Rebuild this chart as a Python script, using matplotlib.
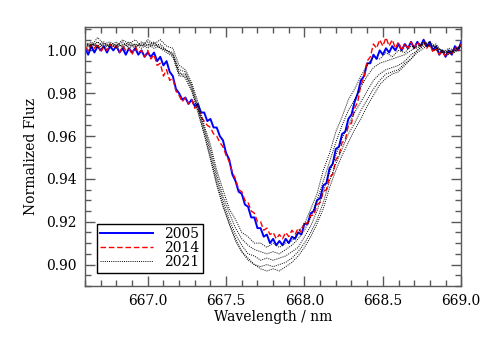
import numpy as np
import matplotlib
matplotlib.use("Agg")
import matplotlib.pyplot as plt
from matplotlib.ticker import MultipleLocator

# wavelength grids (nm)
wl_fine = np.round(np.linspace(666.60, 669.00, 121), 2)
wl_coarse = np.round(np.linspace(666.60, 669.00, 61), 2)

# 2005 spectrum (blue)
flux_2005 = [
    1.001, 0.998, 1.002, 0.999, 1.002, 1.000, 1.002, 0.999, 1.002, 1.000,
    1.002, 0.999, 1.001, 0.998, 1.001, 0.999, 1.001, 0.998, 1.000, 0.997,
    0.999, 0.997, 0.999, 0.995, 0.997, 0.993, 0.995, 0.990, 0.988, 0.982,
    0.980, 0.977, 0.978, 0.975, 0.977, 0.974, 0.975, 0.971, 0.971, 0.967,
    0.968, 0.964, 0.964, 0.960, 0.958, 0.952, 0.949, 0.942, 0.939, 0.934,
    0.933, 0.928, 0.927, 0.922, 0.922, 0.917, 0.917, 0.913, 0.914, 0.910,
    0.912, 0.909, 0.911, 0.909, 0.912, 0.910, 0.913, 0.912, 0.915, 0.914,
    0.919, 0.919, 0.924, 0.925, 0.930, 0.931, 0.937, 0.938, 0.945, 0.947,
    0.954, 0.955, 0.961, 0.962, 0.968, 0.970, 0.976, 0.980, 0.986, 0.988,
    0.994, 0.994, 0.998, 0.996, 1.000, 0.998, 1.001, 0.999, 1.002, 1.000,
    1.003, 1.000, 1.003, 1.001, 1.004, 1.001, 1.004, 1.002, 1.005, 1.002,
    1.004, 1.000, 1.002, 0.998, 1.000, 0.997, 1.000, 0.998, 1.002, 1.000,
    1.004,
]

# 2014 spectrum (red dashed)
flux_2014 = [
    1.002, 1.000, 1.003, 1.001, 1.003, 0.999, 1.002, 1.000, 1.003, 1.001,
    1.002, 0.999, 1.002, 1.000, 1.001, 0.998, 1.002, 0.999, 1.000, 0.997,
    1.000, 0.996, 0.998, 0.993, 0.994, 0.988, 0.991, 0.986, 0.987, 0.981,
    0.979, 0.976, 0.978, 0.975, 0.977, 0.973, 0.974, 0.969, 0.967, 0.965,
    0.964, 0.961, 0.960, 0.957, 0.955, 0.951, 0.948, 0.943, 0.940, 0.935,
    0.934, 0.930, 0.929, 0.925, 0.924, 0.920, 0.920, 0.916, 0.917, 0.914,
    0.915, 0.912, 0.914, 0.912, 0.915, 0.913, 0.916, 0.914, 0.917, 0.915,
    0.920, 0.919, 0.923, 0.923, 0.928, 0.929, 0.934, 0.935, 0.941, 0.942,
    0.949, 0.951, 0.957, 0.958, 0.965, 0.966, 0.973, 0.976, 0.984, 0.987,
    0.995, 0.997, 1.003, 1.001, 1.005, 1.002, 1.006, 1.002, 1.005, 1.001,
    1.004, 1.000, 1.003, 1.001, 1.004, 1.001, 1.004, 1.002, 1.004, 1.001,
    1.003, 0.999, 1.001, 0.998, 1.000, 0.997, 0.999, 0.998, 1.002, 1.000,
    1.003,
]

# 2021 spectra (black dotted, several exposures)
flux_2021_a = [
    1.004, 1.002, 1.006, 1.003, 1.004, 1.002, 1.005, 1.003, 1.005, 1.002,
    1.005, 1.003, 1.005, 1.002, 1.001, 0.993, 0.991, 0.985, 0.976, 0.965,
    0.956, 0.944, 0.935, 0.926, 0.921, 0.915, 0.913, 0.910, 0.910, 0.908,
    0.910, 0.908, 0.910, 0.911, 0.915, 0.919, 0.926, 0.933, 0.944, 0.952,
    0.962, 0.969, 0.977, 0.982, 0.988, 0.993, 0.997, 0.996, 0.999, 0.997,
    1.000, 0.999, 1.002, 1.001, 1.004, 1.002, 1.003, 0.999, 1.001, 1.000,
    1.003,
]
flux_2021_b = [
    1.002, 1.004, 1.001, 1.003, 1.002, 1.004, 1.001, 1.003, 1.001, 1.004,
    1.002, 1.004, 1.001, 1.000, 0.999, 0.991, 0.990, 0.984, 0.974, 0.964,
    0.954, 0.942, 0.932, 0.924, 0.917, 0.912, 0.909, 0.907, 0.906, 0.905,
    0.906, 0.905, 0.907, 0.909, 0.912, 0.916, 0.922, 0.930, 0.939, 0.948,
    0.957, 0.965, 0.972, 0.977, 0.983, 0.988, 0.992, 0.994, 0.995, 0.996,
    0.997, 0.998, 1.000, 1.002, 1.003, 1.004, 1.001, 1.000, 0.999, 1.001,
    1.002,
]
flux_2021_c = [
    1.003, 1.001, 1.004, 1.002, 1.003, 1.001, 1.003, 1.002, 1.003, 1.001,
    1.003, 1.001, 1.002, 1.000, 0.998, 0.989, 0.989, 0.983, 0.973, 0.963,
    0.952, 0.940, 0.930, 0.921, 0.914, 0.909, 0.905, 0.904, 0.902, 0.903,
    0.902, 0.903, 0.904, 0.906, 0.908, 0.913, 0.918, 0.925, 0.934, 0.943,
    0.951, 0.959, 0.965, 0.971, 0.976, 0.981, 0.986, 0.989, 0.991, 0.992,
    0.993, 0.995, 0.998, 1.000, 1.003, 1.002, 1.002, 0.999, 1.000, 0.999,
    1.002,
]
flux_2021_d = [
    1.001, 1.003, 1.002, 1.004, 1.001, 1.003, 1.002, 1.004, 1.002, 1.003,
    1.001, 1.003, 1.001, 0.999, 0.997, 0.988, 0.988, 0.982, 0.971, 0.961,
    0.950, 0.938, 0.928, 0.919, 0.911, 0.906, 0.902, 0.900, 0.899, 0.900,
    0.899, 0.900, 0.901, 0.903, 0.906, 0.910, 0.915, 0.921, 0.929, 0.939,
    0.947, 0.954, 0.961, 0.966, 0.972, 0.977, 0.982, 0.986, 0.989, 0.990,
    0.991, 0.994, 0.996, 0.999, 1.001, 1.003, 1.001, 1.000, 0.998, 1.000,
    1.001,
]
flux_2021_e = [
    1.003, 1.002, 1.004, 1.001, 1.003, 1.002, 1.004, 1.001, 1.003, 1.002,
    1.004, 1.002, 1.003, 1.000, 0.998, 0.990, 0.987, 0.981, 0.972, 0.961,
    0.949, 0.937, 0.927, 0.919, 0.912, 0.906, 0.903, 0.900, 0.898, 0.897,
    0.898, 0.897, 0.899, 0.901, 0.904, 0.908, 0.913, 0.919, 0.926, 0.936,
    0.944, 0.951, 0.957, 0.963, 0.968, 0.974, 0.979, 0.984, 0.987, 0.989,
    0.990, 0.993, 0.996, 1.000, 1.002, 1.002, 1.000, 0.999, 0.999, 1.000,
    1.002,
]
flux_2021 = [flux_2021_a, flux_2021_b, flux_2021_c, flux_2021_d, flux_2021_e]

plt.rcParams['font.family'] = ['DejaVu Serif']
plt.rcParams['font.size'] = 10

fig = plt.figure(figsize=(4.86, 3.40), dpi=100)
ax = fig.add_axes([0.175, 0.159, 0.774, 0.762])

ax.plot(wl_fine, flux_2005, color='blue', lw=1.4, label='2005')
ax.plot(wl_fine, flux_2014, color='red', lw=1.0, ls=(0, (4, 2)), label='2014')
for i, f in enumerate(flux_2021):
    ax.plot(wl_coarse, f, color='black', lw=0.7, ls=(0, (1, 1.2)),
            label='2021' if i == 0 else None)

ax.set_xlim(666.6, 669.0)
ax.set_ylim(0.89, 1.011)
ax.xaxis.set_major_locator(MultipleLocator(0.5))
ax.xaxis.set_minor_locator(MultipleLocator(0.1))
ax.yaxis.set_major_locator(MultipleLocator(0.02))
ax.yaxis.set_minor_locator(MultipleLocator(0.005))
ax.xaxis.set_major_formatter(plt.FormatStrFormatter('%.1f'))
ax.yaxis.set_major_formatter(plt.FormatStrFormatter('%.2f'))
ax.tick_params(which='both', direction='in', top=True, right=True, color='0.35')
ax.tick_params(which='major', length=7, width=1, pad=6)
ax.tick_params(which='minor', length=4, width=1)
for s in ax.spines.values():
    s.set_color('0.35')
    s.set_linewidth(1)

ax.set_xlabel('Wavelength / nm', labelpad=1)
ax.set_ylabel('Normalized Fluz', labelpad=6)

leg = ax.legend(loc='lower left', handlelength=3.8, fancybox=False,
                edgecolor='black', framealpha=1, borderpad=0.25,
                labelspacing=0.0, handletextpad=0.8,
                bbox_to_anchor=(0.012, 0.025))
leg.get_frame().set_linewidth(1)

fig.savefig('out.png', dpi=100)
